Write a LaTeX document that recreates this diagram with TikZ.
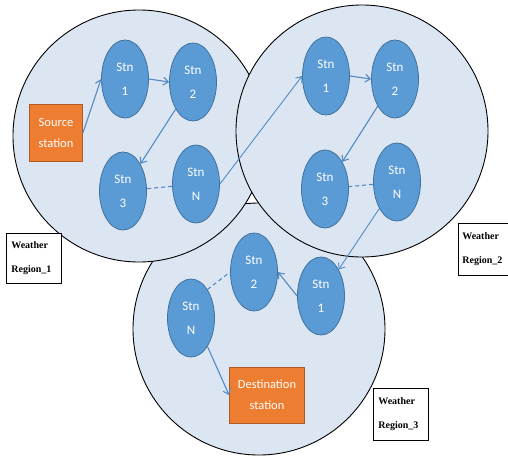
\documentclass[tikz,border=0pt]{standalone}
\usepackage{fontspec}
\setmainfont{Carlito}
\newfontfamily\labfont{Liberation Serif}
\usetikzlibrary{shapes.geometric,arrows.meta}
\definecolor{circfill}{RGB}{220,230,242}
\definecolor{ellfill}{RGB}{91,155,213}
\definecolor{ellborder}{RGB}{65,113,156}
\definecolor{orangefill}{RGB}{237,125,49}
\definecolor{orangeborder}{RGB}{174,90,33}
\definecolor{arrowblue}{RGB}{84,138,196}
\begin{document}
\begin{tikzpicture}[x=1pt,y=-1pt,
  region/.style={circle,draw=black,line width=0.9pt,fill=circfill,minimum size=252pt,inner sep=0pt},
  stn/.style={ellipse,draw=ellborder,line width=0.8pt,fill=ellfill,minimum width=47pt,minimum height=78pt,inner sep=0pt,text=white,font=\fontsize{13}{24}\selectfont,align=center},
  term/.style={rectangle,draw=orangeborder,line width=0.8pt,fill=orangefill,text=white,inner sep=0pt,font=\fontsize{12.5}{21}\selectfont,align=center},
  flow/.style={draw=arrowblue,line width=1.1pt,-{Straight Barb[length=5pt,width=8pt]}},
  cross/.style={draw=arrowblue,line width=0.9pt,-{Straight Barb[length=5pt,width=8pt]}},
  dashlink/.style={draw=arrowblue,line width=1.1pt,dash pattern=on 4pt off 3pt},
  lab/.style={draw=black,line width=0.7pt,fill=white,anchor=north west,align=left,inner xsep=5pt,inner ysep=0pt,font=\labfont\bfseries\fontsize{10}{24}\selectfont}
]
\useasboundingbox (0,0) rectangle (508,456);
\fill[white] (0,0) rectangle (508,456);

% regions
\node[region] (r3) at (259,329) {};
\node[region] (r1) at (139,136) {};
\node[region] (r2) at (362,131) {};

% region 1
\node[term,minimum width=53pt,minimum height=57pt] (src) at (56,133) {Source\\station};
\node[stn] (a1) at (125,79) {Stn\\1};
\node[stn] (a2) at (193,82) {Stn\\2};
\node[stn] (a3) at (123,191) {Stn\\3};
\node[stn] (aN) at (196,184) {Stn\\N};

% region 2
\node[stn] (b1) at (326,76) {Stn\\1};
\node[stn] (b2) at (395,79) {Stn\\2};
\node[stn] (b3) at (325,189) {Stn\\3};
\node[stn] (bN) at (397,182) {Stn\\N};

% region 3
\node[stn] (c1) at (321,296) {Stn\\1};
\node[stn] (c2) at (254,272) {Stn\\2};
\node[stn] (cN) at (191,318) {Stn\\N};
\node[term,minimum width=75pt,minimum height=56pt] (dst) at (267,395) {Destination\\station};

% labels
\node[lab,minimum width=55pt,minimum height=50pt,text width=45pt] (l1) at (6,233) {Weather\\Region\_1};
\node[lab,minimum width=50pt,minimum height=52pt,text width=42pt,inner xsep=4pt] (l2) at (458,223) {Weather\\Region\_2};
\node[lab,minimum width=55pt,minimum height=52pt,text width=45pt] (l3) at (373,388) {Weather\\Region\_3};

% connectors region 1
\draw[flow] (src.east) -- (a1.west);
\draw[flow] (a1.east) -- (a2.west);
\draw[flow] (a2) -- (a3);
\draw[dashlink] (aN) -- (a3);
\draw[cross] (aN.east) -- (b1.west);

% connectors region 2
\draw[flow] (b1.east) -- (b2.west);
\draw[flow] (b2) -- (b3);
\draw[dashlink] (bN) -- (b3);
\draw[cross] (bN) -- (c1);

% connectors region 3
\draw[flow] (c1.west) -- (c2.east);
\draw[dashlink] (cN.60) -- (c2.west);
\draw[flow] (cN.300) -- (dst.west);
\end{tikzpicture}
\end{document}
